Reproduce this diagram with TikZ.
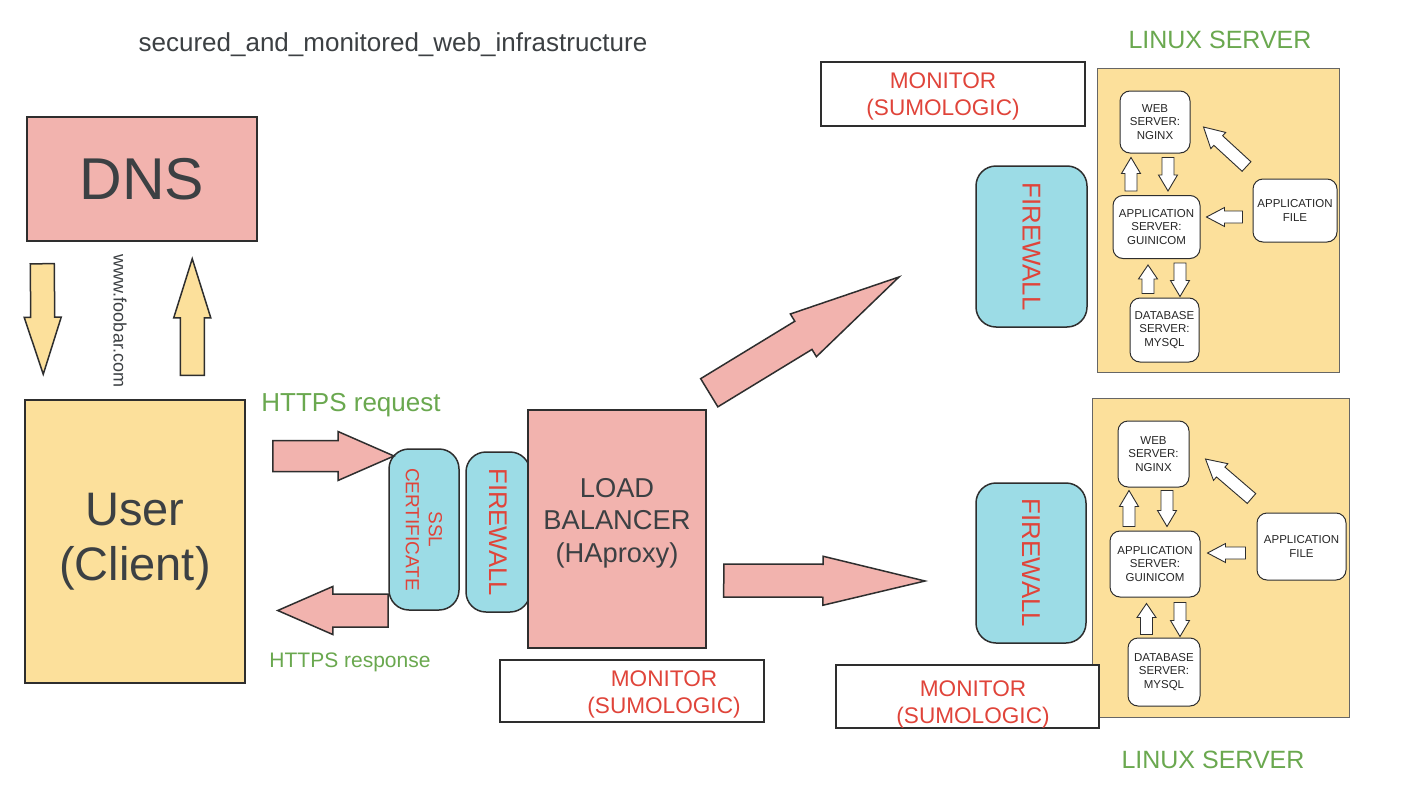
\documentclass[tikz,border=0pt]{standalone}
\usepackage{fontspec}
\setmainfont{Liberation Sans}
\usetikzlibrary{positioning,calc}

\definecolor{pinkfill}{HTML}{F2B3AE}
\definecolor{yellowfill}{HTML}{FCE09B}
\definecolor{cyanfill}{HTML}{9CDCE6}
\definecolor{redtext}{HTML}{E0443A}
\definecolor{greentext}{HTML}{6AA84F}
\definecolor{darktext}{HTML}{3C4043}
\definecolor{edge}{HTML}{2E2E2E}

% block arrow: [style]{tail}{tip}{shaft half}{head half}{head length}
\newcommand\barrow[6][]{%
  \path (#2) coordinate (tailpt) (#3) coordinate (tippt);
  \pgfpointdiff{\pgfpointanchor{tailpt}{center}}{\pgfpointanchor{tippt}{center}}%
  \pgfgetlastxy{\barx}{\bary}%
  \pgfmathsetmacro\barang{atan2(\bary,\barx)}%
  \pgfmathsetmacro\barlen{veclen(\barx,\bary)}%
  \draw[#1, shift={(tailpt)}, rotate=\barang]
    (0,#4) -- (\barlen-#6,#4) -- (\barlen-#6,#5) -- (\barlen,0)
    -- (\barlen-#6,-#5) -- (\barlen-#6,-#4) -- (0,-#4) -- cycle;}

\begin{document}
\begin{tikzpicture}[x=1pt, y=-1pt,
    box/.style = {draw=edge, line width=1.5pt, inner sep=0pt},
    pinkbox/.style = {box, fill=pinkfill, text=darktext},
    userbox/.style = {box, fill=yellowfill, text=darktext},
    wall/.style = {box, fill=cyanfill, rounded corners=20pt, text=redtext, align=center, rotate=-90},
    monbox/.style = {box, fill=white},
    server/.style = {draw=gray!80!black, line width=1pt, fill=yellowfill, inner sep=0pt},
    part/.style = {draw=edge, line width=1pt, fill=white, rounded corners=10pt, inner sep=0pt,
                   align=center, text=black!85, font=\fontsize{11.5}{13.5}\selectfont},
    redlbl/.style = {text=redtext, align=center, font=\fontsize{22.6}{27}\selectfont},
    greenlbl/.style = {text=greentext},
    yarrow/.style = {draw=edge, line width=1.5pt, fill=yellowfill},
    parrow/.style = {draw=edge, line width=1.5pt, fill=pinkfill},
    warrow/.style = {draw=edge, line width=0.9pt, fill=white}]

\path[fill=white] (0,0) rectangle (1422,800);
\useasboundingbox (0,0) rectangle (1422,800);

\node[text=darktext, font=\fontsize{26}{30}\selectfont] (title) at (393,45) {secured\_and\_monitored\_web\_infrastructure};

\node[pinkbox, minimum width=230pt, minimum height=124pt, font=\fontsize{59}{64}\selectfont] (dns) at (142,179) {DNS};
\node[userbox, minimum width=220pt, minimum height=283pt, align=center, font=\fontsize{47}{55}\selectfont] (user) at (135,541.5) {User\\(Client)};
\node[text=darktext, rotate=-90, font=\fontsize{18}{20}\selectfont] (url) at (120,321) {www.foobar.com};

\node[wall, minimum width=161pt, minimum height=70pt, font=\fontsize{19}{23}\selectfont] (ssl) at (424,529.5) {SSL\\CERTIFICATE};
\node[wall, minimum width=160pt, minimum height=64pt, font=\fontsize{25.6}{30}\selectfont] (fwlb) at (498,532) {FIREWALL};
\node[pinkbox, minimum width=178pt, minimum height=238pt] (lb) at (617,529) {};
\node[text=darktext, align=center, font=\fontsize{27.3}{32.5}\selectfont] (lbtext) at (617,523) {LOAD\\BALANCER\\(HAproxy)};

\node[greenlbl, font=\fontsize{26}{30}\selectfont] (req) at (351,405) {HTTPS request};
\node[greenlbl, font=\fontsize{21}{25}\selectfont] (resp) at (350,662) {HTTPS response};

\node[server, minimum width=242pt, minimum height=303pt] (srvtop) at (1218,220.5) {};
\node[server, minimum width=257pt, minimum height=319pt] (srvbot) at (1220.5,557.5) {};
\node[greenlbl, font=\fontsize{25}{30}\selectfont] (lintop) at (1220,40) {LINUX SERVER};
\node[greenlbl, font=\fontsize{25}{30}\selectfont] (linbot) at (1213,760) {LINUX SERVER};

\node[monbox, minimum width=264pt, minimum height=62pt] (monlb) at (632,691) {};
\node[redlbl] (monlbtext) at (664,694) {MONITOR\\(SUMOLOGIC)};
\node[monbox, minimum width=264pt, minimum height=64pt] (montop) at (953,94) {};
\node[redlbl] (montoptext) at (943,96) {MONITOR\\(SUMOLOGIC)};
\node[monbox, minimum width=263pt, minimum height=63pt] (monbot) at (967.5,696.5) {};
\node[redlbl] (monbottext) at (973,704) {MONITOR\\(SUMOLOGIC)};

\node[wall, minimum width=161pt, minimum height=111pt, font=\fontsize{25.8}{30}\selectfont] (fwtop) at (1031.5,246.5) {FIREWALL};
\node[wall, minimum width=160pt, minimum height=110pt, font=\fontsize{25.8}{30}\selectfont] (fwbot) at (1031,563) {FIREWALL};

\node[part, minimum width=70pt, minimum height=62pt] (webtop) at (1155,122) {WEB\\SERVER:\\NGINX};
\node[part, minimum width=87pt, minimum height=63pt] (apptop) at (1156.5,227) {APPLICATION\\SERVER:\\GUINICOM};
\node[part, minimum width=84pt, minimum height=63pt] (filetop) at (1295,210.5) {APPLICATION\\FILE};
\node[part, minimum width=69pt, minimum height=64pt] (dbtop) at (1164.5,330) {DATABASE\\SERVER:\\MYSQL};

\node[part, minimum width=71pt, minimum height=66pt] (webbot) at (1153.5,454) {WEB\\SERVER:\\NGINX};
\node[part, minimum width=90pt, minimum height=66pt] (appbot) at (1155,564) {APPLICATION\\SERVER:\\GUINICOM};
\node[part, minimum width=89pt, minimum height=67pt] (filebot) at (1301.5,546.5) {APPLICATION\\FILE};
\node[part, minimum width=72pt, minimum height=68pt] (dbbot) at (1164,672) {DATABASE\\SERVER:\\MYSQL};

\barrow[yarrow]{$(dns.south west)+(16,22)$}{$(user.north west)+(19,-25)$}{12}{18.5}{57}
\barrow[yarrow]{$(user.north west)+(168,-24)$}{$(dns.south west)+(166,17)$}{12}{18.5}{59}
\barrow[parrow]{$(user.east)+(27,-85.5)$}{$(ssl.center)+(-30,-73.5)$}{15.5}{24.5}{56}
\barrow[parrow]{$(ssl.center)+(-36,81)$}{$(user.east)+(32,69)$}{16.5}{24}{55}
\barrow[parrow]{$(lb.north east)+(2.5,-16.5)$}{$(fwtop.center)+(-132.5,30.5)$}{16.5}{25}{112}
\barrow[parrow]{$(lb.east)+(17,51.5)$}{$(fwbot.center)+(-106,18)$}{16.5}{24.5}{102}

\barrow[warrow]{$(apptop.north)+(-25.5,-4)$}{$(webtop.south)+(-24,4)$}{6}{9.5}{16}
\barrow[warrow]{$(webtop.south)+(13,4)$}{$(apptop.north)+(11.5,-4)$}{6}{9.5}{16}
\barrow[warrow]{$(filetop.west)+(-10,6.5)$}{$(apptop.east)+(6,-10)$}{6}{9.5}{18}
\barrow[warrow]{$(filetop.north west)+(-6,-12)$}{$(webtop.east)+(13,5)$}{6.5}{11}{20}
\barrow[warrow]{$(dbtop.north)+(-16.5,-4)$}{$(apptop.south)+(-8.5,6)$}{6}{9.5}{14}
\barrow[warrow]{$(apptop.south)+(23.5,4)$}{$(dbtop.north)+(15.5,-1)$}{6}{9.5}{16}

\barrow[warrow]{$(appbot.north)+(-26,-4)$}{$(webbot.south)+(-24.5,3)$}{6}{9.5}{16}
\barrow[warrow]{$(webbot.south)+(13.5,3)$}{$(appbot.north)+(12,-4)$}{6}{9.5}{16}
\barrow[warrow]{$(filebot.west)+(-11,6.5)$}{$(appbot.east)+(7,-11)$}{6}{9.5}{18}
\barrow[warrow]{$(filebot.north west)+(-5,-14)$}{$(webbot.east)+(16,5)$}{6.5}{11}{20}
\barrow[warrow]{$(dbbot.north)+(-17.5,-3)$}{$(appbot.south)+(-8.5,6)$}{6}{9.5}{14}
\barrow[warrow]{$(appbot.south)+(25,5)$}{$(dbbot.north)+(16,-1)$}{6}{9.5}{16}
\end{tikzpicture}
\end{document}
